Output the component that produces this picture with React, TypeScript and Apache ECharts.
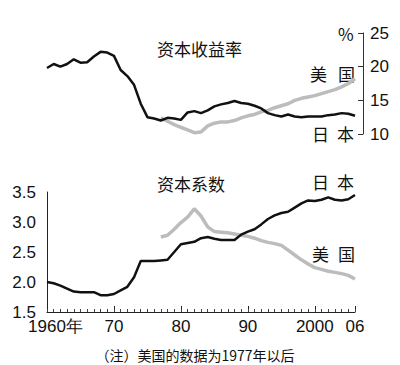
import React, { useEffect, useRef } from "react";
import * as echarts from "echarts";

const startYear = 1960;
const endYear = 2006;
const usStartYear = 1977;

// 资本收益率 (%)
const japanReturn = [
  19.8, 20.4, 20.0, 20.4, 21.1, 20.6, 20.65, 21.5, 22.2, 22.1,
  21.6, 19.5, 18.6, 17.3, 14.5, 12.5, 12.3, 12.0, 12.4, 12.3,
  12.1, 13.2, 13.4, 13.1, 13.5, 14.1, 14.4, 14.6, 14.9, 14.6,
  14.5, 14.2, 13.8, 13.1, 12.8, 12.6, 12.9, 12.6, 12.5, 12.6,
  12.6, 12.6, 12.8, 12.9, 13.1, 13.0, 12.7,
];
const usReturn = [
  12.4, 11.9, 11.4, 11.0, 10.6, 10.2, 10.3, 11.2, 11.6, 11.8,
  11.8, 12.0, 12.4, 12.7, 12.9, 13.3, 13.5, 13.9, 14.2, 14.5,
  15.0, 15.3, 15.5, 15.7, 16.0, 16.3, 16.6, 17.0, 17.5, 18.2,
];

// 资本系数
const japanCoef = [
  2.0, 1.98, 1.94, 1.89, 1.84, 1.83, 1.83, 1.83, 1.78, 1.78,
  1.80, 1.86, 1.92, 2.08, 2.35, 2.35, 2.35, 2.36, 2.37, 2.5,
  2.63, 2.65, 2.67, 2.73, 2.75, 2.72, 2.70, 2.70, 2.70, 2.79,
  2.84, 2.88, 2.96, 3.05, 3.11, 3.15, 3.17, 3.24, 3.31, 3.36,
  3.35, 3.37, 3.41, 3.37, 3.36, 3.38, 3.45,
];
const usCoef = [
  2.75, 2.78, 2.88, 2.99, 3.08, 3.22, 3.10, 2.92, 2.84, 2.83,
  2.82, 2.80, 2.78, 2.76, 2.73, 2.69, 2.66, 2.64, 2.61, 2.53,
  2.45, 2.37, 2.30, 2.24, 2.21, 2.18, 2.16, 2.14, 2.11, 2.05,
];

const returnTicks = [10, 25, 5];
const coefTicks = [1.5, 3.5, 0.5];

const toPairs = (start: number, vals: number[]) => vals.map((v, i) => [start + i, v]);

const NUM_FONT = "'Liberation Sans', Arial, sans-serif";
const CJK_FONT = "'Noto Sans CJK SC', sans-serif";

function txt(text: string, x: number, y: number, size: number, align = "left", fill = "#111") {
  return {
    type: "text",
    x,
    y,
    silent: true,
    style: { text, fontSize: size, fontFamily: CJK_FONT, fill, align, verticalAlign: "middle" },
  };
}

export default function App() {
  const ref = useRef<HTMLDivElement>(null);
  useEffect(() => {
    if (!ref.current) return;
    const chart = echarts.init(ref.current, undefined, { renderer: "svg" });
    const labelFmt = (v: number) => {
      if (v === 1960) return "{first|1960年}";
      if (v === 2000) return "2000";
      return String(v % 100).padStart(2, "0");
    };
    chart.setOption({
      animation: false,
      backgroundColor: "#fff",
      grid: [
        { left: 47, right: 45, top: 33, height: 101 },
        { left: 47, right: 45, top: 192, height: 120 },
      ],
      xAxis: [
        { type: "value", gridIndex: 0, min: startYear, max: endYear, show: false },
        {
          type: "value", gridIndex: 1, min: startYear, max: endYear, interval: 10, position: "bottom",
          axisLine: { show: true, lineStyle: { color: "#222", width: 1 } },
          axisTick: { show: true, inside: true, length: 6, lineStyle: { color: "#222" } },
          axisLabel: {
            show: true, formatter: labelFmt, fontSize: 17, fontFamily: NUM_FONT, color: "#111",
            margin: 7, lineHeight: 14,
            rich: {
              first: {
                fontSize: 17, fontFamily: NUM_FONT, color: "#111", lineHeight: 14,
                padding: [0, 0, 0, 17],
              },
            },
          },
          splitLine: { show: false },
        },
        {
          type: "value", gridIndex: 1, min: startYear, max: endYear, interval: 1, position: "bottom",
          axisLine: { show: false },
          axisTick: { show: true, inside: true, length: 3, lineStyle: { color: "#444" } },
          axisLabel: { show: false },
          splitLine: { show: false },
        },
      ],
      yAxis: [
        {
          type: "value", gridIndex: 0, position: "right", offset: 8,
          min: returnTicks[0], max: returnTicks[1], interval: returnTicks[2],
          axisLine: { show: true, lineStyle: { color: "#333", width: 1 } },
          axisTick: { show: true, inside: true, length: 5, lineStyle: { color: "#333" } },
          axisLabel: { fontSize: 17, fontFamily: NUM_FONT, color: "#111", margin: 7 },
          splitLine: { show: false },
        },
        {
          type: "value", gridIndex: 1, position: "left",
          min: coefTicks[0], max: coefTicks[1], interval: coefTicks[2],
          axisLine: { show: true, lineStyle: { color: "#222", width: 1 } },
          axisTick: { show: false },
          axisLabel: {
            fontSize: 17, fontFamily: NUM_FONT, color: "#111", margin: 11, lineHeight: 14,
            formatter: (v: number) => v.toFixed(1),
          },
          splitLine: { show: false },
        },
      ],
      series: [
        {
          name: "美国收益率", type: "line", xAxisIndex: 0, yAxisIndex: 0, symbol: "none",
          data: toPairs(usStartYear, usReturn), lineStyle: { color: "#bcbcbc", width: 3.5 },
        },
        {
          name: "日本收益率", type: "line", xAxisIndex: 0, yAxisIndex: 0, symbol: "none",
          data: toPairs(startYear, japanReturn), lineStyle: { color: "#111", width: 2.5 },
        },
        {
          name: "美国系数", type: "line", xAxisIndex: 1, yAxisIndex: 1, symbol: "none",
          data: toPairs(usStartYear, usCoef), lineStyle: { color: "#bcbcbc", width: 3.5 },
        },
        {
          name: "日本系数", type: "line", xAxisIndex: 1, yAxisIndex: 1, symbol: "none",
          data: toPairs(startYear, japanCoef), lineStyle: { color: "#111", width: 2.5 },
        },
      ],
      graphic: [
        txt("资本收益率", 157, 48, 17),
        txt("资本系数", 157, 183, 17),
        txt("%", 338, 33, 17),
        txt("美", 310, 73, 17),
        txt("国", 338, 73, 17),
        txt("日", 312, 133, 17),
        txt("本", 337, 133, 17),
        txt("日", 312, 181, 17),
        txt("本", 337, 181, 17),
        txt("美", 312, 253, 17),
        txt("国", 338, 253, 17),
        txt("（注）美国的数据为1977年以后", 195, 355, 14, "center"),
      ],
    });
    return () => chart.dispose();
  }, []);
  return (
    <div
      ref={ref}
      style={{ position: "fixed", left: 0, top: 0, width: 400, height: 365, background: "#fff" }}
    />
  );
}
